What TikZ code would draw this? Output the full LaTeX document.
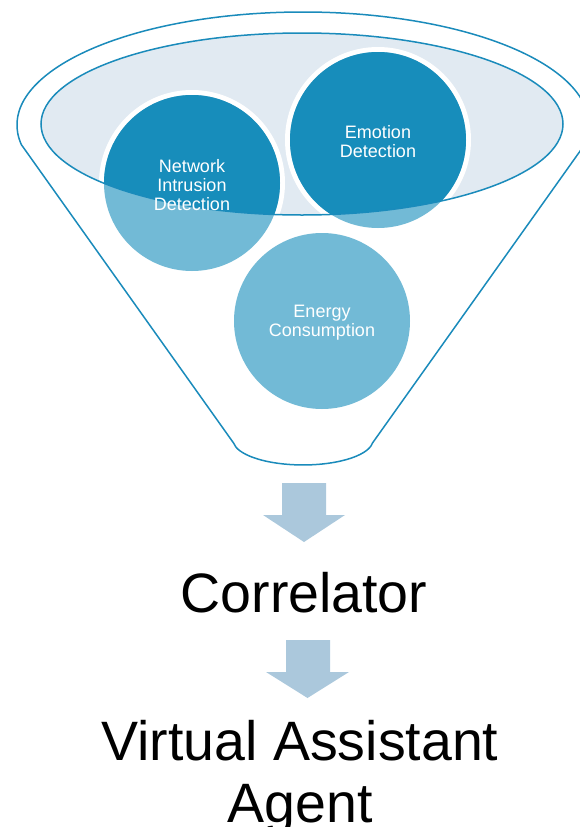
\documentclass[tikz,border=0pt]{standalone}
\usepackage{fontspec}
\setmainfont{Liberation Sans}
\definecolor{dkblue}{HTML}{178DBB}
\definecolor{ltblue}{HTML}{72BAD6}
\definecolor{elfill}{HTML}{E1EAF2}
\definecolor{lineblue}{HTML}{1A8BBB}
\definecolor{arrowblue}{HTML}{ABC8DC}
\tikzset{
  x=1pt,y=1pt,
  bubble/.style={circle,minimum size=176pt,inner sep=0pt,fill=ltblue,text=white,
    font=\fontsize{18}{19}\selectfont,align=center},
  ring/.style={fill=white},
  outline/.style={draw=lineblue,line width=1.5pt},
  bigarrow/.style={fill=arrowblue},
  bigtext/.style={font=\fontsize{55.5}{62}\selectfont,anchor=base,text=black}
}
\begin{document}
\begin{tikzpicture}
\useasboundingbox (0,0) rectangle (579,-827);
% outer funnel
\draw[outline,fill=white,line join=round]
  (303,-125) ++(190:286 and 113) arc[start angle=190,end angle=-10,x radius=286,y radius=113]
  -- (372.5,-443) arc[start angle=-7,end angle=-173,x radius=70,y radius=25]
  -- cycle;
% inner ellipse
\fill[elfill] (302,-124) ellipse[x radius=261,y radius=91];
% white rings
\fill[ring] (192,-183) circle[radius=93];
\fill[ring] (378,-140) circle[radius=93];
\fill[ring] (322,-321) circle[radius=93];
% circles
\node[bubble] (nid) at (192,-183) {};
\node[bubble] (emo) at (378,-140) {};
\node[bubble] (ene) at (322,-321) {};
% dark parts inside ellipse
\begin{scope}
  \clip (302,-124) ellipse[x radius=261,y radius=91];
  \fill[dkblue] (nid) circle[radius=88];
  \fill[dkblue] (emo) circle[radius=88];
  \fill[dkblue] (ene) circle[radius=88];
\end{scope}
\draw[outline] (302,-124) ellipse[x radius=261,y radius=91];
% labels
\node[bubble,fill=none] at ([yshift=-2pt]nid.center) {Network\\Intrusion\\Detection};
\node[bubble,fill=none] at ([yshift=-2pt]emo.center) {Emotion\\Detection};
\node[bubble,fill=none] at ([yshift=-2pt]ene.center) {Energy\\Consumption};
% arrows
\fill[bigarrow] (282,-483) -- (326,-483) -- (326,-515) -- (345,-515) -- (304,-542)
  -- (263,-515) -- (282,-515) -- cycle;
\node[bigtext] (corr) at (304,-612) {Correlator};
\fill[bigarrow] (286,-640) -- (330,-640) -- (330,-672) -- (349,-672) -- (307.5,-698)
  -- (266,-672) -- (286,-672) -- cycle;
\node[bigtext] (va) at (300,-760) {Virtual Assistant};
\node[bigtext] (ag) at (300,-822) {Agent};
\end{tikzpicture}
\end{document}
